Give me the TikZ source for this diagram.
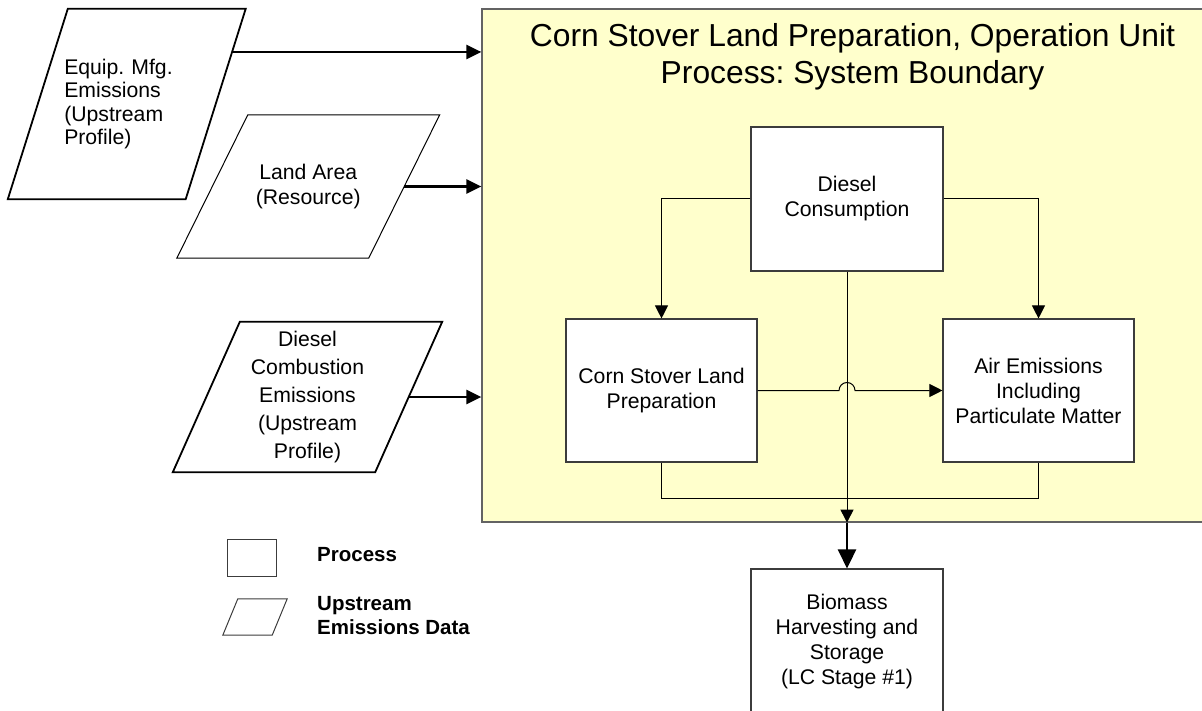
\documentclass[tikz,border=0pt]{standalone}
\usepackage{fontspec}
\setmainfont{Liberation Sans}
\usetikzlibrary{arrows.meta}
\frenchspacing

\definecolor{boundfill}{HTML}{FFFFCC}
\definecolor{boxline}{HTML}{3C3C3C}

% slanted outline round a (plain) node: #1 draw options, #2 node, #3 half slant
\newcommand{\slantbox}[3][]{%
  \draw[#1] ([xshift=#3]#2.north west) -- ([xshift=#3]#2.north east)
    -- ([xshift=-#3]#2.south east) -- ([xshift=-#3]#2.south west) -- cycle;}

\tikzset{
  txt/.style={font=\fontsize{21.2}{25}\selectfont, align=center},
  process/.style={rectangle, draw=boxline, fill=white, line width=1.1pt,
    minimum width=191pt, minimum height=143pt, inner sep=2pt, txt},
  upstream/.style={rectangle, inner sep=2pt, txt},
  thinarrow/.style={line width=1pt, -{Triangle[length=13pt,width=13pt]}},
  bigarrow/.style={line width=2.6pt, -{Triangle[length=15pt,width=14pt]}},
  legtext/.style={font=\fontsize{20.5}{24}\selectfont\bfseries, align=left,
    inner sep=0pt, anchor=west}
}

\begin{document}
\begin{tikzpicture}[x=1pt,y=-1pt]
      % Bounding box (pixel grid of the reference)
      \useasboundingbox (0,0) rectangle (1202,711);

      % system boundary
      \node[rectangle, draw=boxline!80, fill=boundfill, line width=1.2pt,
        minimum width=723pt, minimum height=513pt] (sysbound) at (843.5,265.5) {};
      \node[font=\fontsize{31.8}{37}\selectfont, align=center] (title) at (852.5,56.3)
        {Corn Stover Land Preparation, Operation Unit\\Process: System Boundary};

      % unit process boxes
      \node[process, minimum width=192pt, minimum height=144pt] (diesel) at (847,199) {Diesel\\Consumption};
      \node[process] (corn) at (661.5,390.5) {Corn Stover Land\\Preparation};
      \node[process] (air) at (1038.5,390.5) {Air Emissions\\Including\\Particulate Matter};
      \node[process, minimum width=192pt, minimum height=145pt] (biomass) at (847,641.5)
        {Biomass\\Harvesting and\\Storage\\(LC Stage \#1)};

      % upstream data
      \node[upstream, text width=125pt, align=left, font=\fontsize{21.2}{23.5}\selectfont,
        minimum width=177.5pt, minimum height=190pt] (equip) at (126.75,104)
        {Equip. Mfg.\\Emissions\\(Upstream\\Profile)};
      \slantbox[line width=1.8pt]{equip}{30pt}
      \node[upstream, minimum width=191.5pt, minimum height=143pt] (land) at (308.25,186.5)
        {Land Area\\(Resource)};
      \slantbox[line width=1pt]{land}{35.5pt}
      \node[upstream, font=\fontsize{21.2}{28}\selectfont,
        minimum width=202pt, minimum height=150pt] (dcomb) at (307.5,397)
        {Diesel\\Combustion\\Emissions\\(Upstream\\Profile)};
      \slantbox[line width=1.8pt]{dcomb}{33.5pt}

      % legend
      \node[rectangle, draw=boxline, line width=1pt, minimum width=49pt,
        minimum height=37pt] (legproc) at (251.5,557.5) {};
      \node[upstream, minimum width=49pt, minimum height=36pt] (legup) at (255,617) {};
      \slantbox[line width=1pt, draw=boxline]{legup}{7.5pt}
      \node[legtext] (legproctxt) at (317,555) {Process};
      \node[legtext] (leguptxt) at (317,616) {Upstream\\Emissions Data};

      % inputs into the boundary
      \coordinate (equipout) at ([shift={(16.4,-52)}]equip.east);
      \draw[bigarrow] (equipout) -- (equipout -| sysbound.west);
      \draw[bigarrow] (land.east) -- (land.east -| sysbound.west);
      \draw[bigarrow] (dcomb.east) -- (dcomb.east -| sysbound.west);

      % flows inside
      \coordinate (hop) at (diesel.south |- corn.east);
      \draw[thinarrow] (diesel.west) -| (corn.north);
      \draw[thinarrow] (diesel.east) -| (air.north);
      \draw[thinarrow] (corn.east) -- ([xshift=-8pt]hop)
        arc[start angle=180, end angle=360, radius=8] -- (air.west);
      \draw[line width=1pt] (corn.south) -- ++(0,36) -| (air.south);
      \draw[thinarrow] (diesel.south) -- (diesel.south |- sysbound.south);

      % output
      \draw[bigarrow, -{Triangle[length=19pt,width=18pt]}]
        (diesel.south |- sysbound.south) -- (biomass.north);
    \end{tikzpicture}
\end{document}
